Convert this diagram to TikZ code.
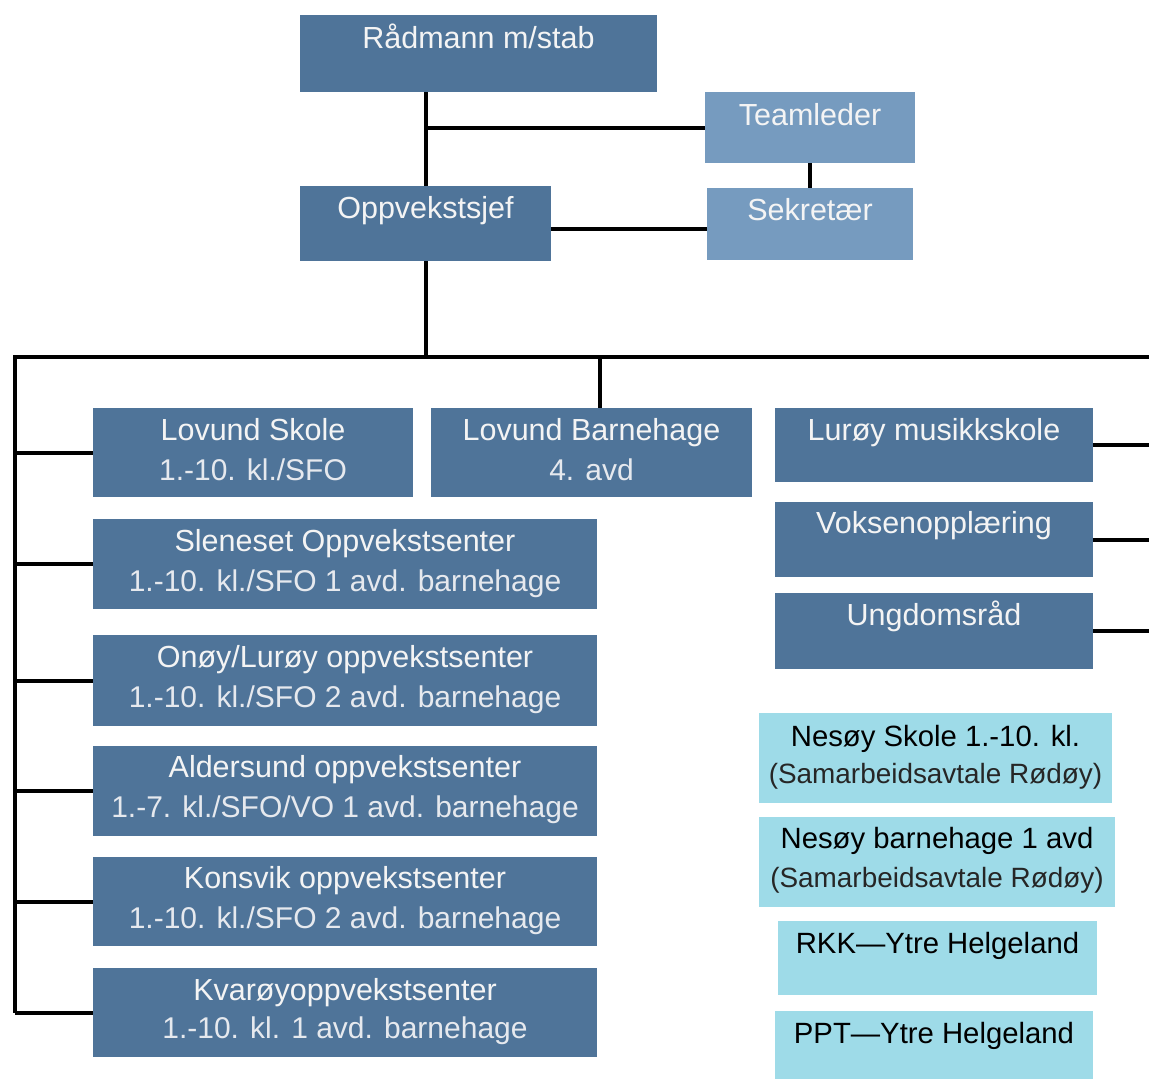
\documentclass[tikz,border=0pt]{standalone}
\usepackage{fontspec}
\setmainfont{Liberation Sans}
\newfontfamily\condfont{Liberation Sans}
\newfontfamily\regfont{Liberation Sans}
\definecolor{darkbox}{HTML}{4F7499}
\definecolor{lightbox}{HTML}{769BBF}
\definecolor{cyanbox}{HTML}{9EDBE8}
\definecolor{textwhite}{HTML}{F4F4F4}
\definecolor{textgrey}{HTML}{E6E9EE}
\tikzset{
  box/.style={rectangle, inner sep=0pt, outer sep=0pt},
  dbox/.style={box, fill=darkbox},
  lbox/.style={box, fill=lightbox},
  cbox/.style={box, fill=cyanbox},
  head/.style={anchor=base, inner sep=0pt, text=textwhite, font=\condfont\fontsize{30.5}{30.5}\selectfont},
  sub/.style={anchor=base, inner sep=0pt, text=textgrey, font=\regfont\fontsize{30}{30}\selectfont},
  chead/.style={anchor=base, inner sep=0pt, text=black, font=\regfont\fontsize{29.3}{29.3}\selectfont},
  csub/.style={anchor=base, inner sep=0pt, text=black!85, font=\regfont\fontsize{27.9}{27.9}\selectfont},
  conn/.style={draw=black, line width=4pt},
}
\newcommand{\boxat}[6]{% style, name, x1, y1, x2, y2
  \node[#1, minimum width={(#5-#3)*1pt}, minimum height={(#6-#4)*1pt}] (#2) at ({(#3+#5)/2},{(#4+#6)/2}) {};}
\begin{document}
\begin{tikzpicture}[x=1pt,y=-1pt]
\useasboundingbox (0,0) rectangle (1149,1079);

% top part
\boxat{dbox}{rad}{300}{15}{657}{92}
\boxat{lbox}{team}{705}{92}{915}{163}
\boxat{lbox}{sek}{707}{188}{913}{260}
\boxat{dbox}{opp}{300}{186}{551}{261}

% left column
\boxat{dbox}{lsk}{93}{408}{413}{497}
\boxat{dbox}{lbh}{431}{408}{752}{497}
\boxat{dbox}{sle}{93}{519}{597}{609}
\boxat{dbox}{ono}{93}{635}{597}{726}
\boxat{dbox}{ald}{93}{746}{597}{836}
\boxat{dbox}{kon}{93}{857}{597}{946}
\boxat{dbox}{kva}{93}{968}{597}{1057}

% right column
\boxat{dbox}{mus}{775}{408}{1093}{482}
\boxat{dbox}{vok}{775}{502}{1093}{577}
\boxat{dbox}{ung}{775}{593}{1093}{669}
\boxat{cbox}{nsk}{759}{713}{1112}{803}
\boxat{cbox}{nbh}{759}{817}{1115}{907}
\boxat{cbox}{rkk}{778}{921}{1097}{995}
\boxat{cbox}{ppt}{775}{1011}{1093}{1079}

% texts
\node[head] (radt) at ([yshift=-33pt]rad.north) {Rådmann m/stab};
\node[head] (teamt) at ([yshift=-33pt]team.north) {Teamleder};
\node[head] (sekt) at ([yshift=-32pt]sek.north) {Sekretær};
\node[head] (oppt) at ([yshift=-32pt]opp.north) {Oppvekstsjef};

\node[head] (lskt) at ([yshift=-32pt]lsk.north) {Lovund Skole};
\node[sub] (lsks) at ([yshift=-72pt]lsk.north) {1.-10. kl./SFO};
\node[head] (lbht) at ([yshift=-32pt]lbh.north) {Lovund Barnehage};
\node[sub] (lbhs) at ([yshift=-72pt]lbh.north) {4. avd};
\node[head] (slet) at ([yshift=-32pt]sle.north) {Sleneset Oppvekstsenter};
\node[sub] (sles) at ([yshift=-72pt]sle.north) {1.-10. kl./SFO 1 avd. barnehage};
\node[head] (onot) at ([yshift=-32pt]ono.north) {Onøy/Lurøy oppvekstsenter};
\node[sub] (onos) at ([yshift=-72pt]ono.north) {1.-10. kl./SFO 2 avd. barnehage};
\node[head] (aldt) at ([yshift=-31pt]ald.north) {Aldersund oppvekstsenter};
\node[sub] (alds) at ([yshift=-71pt]ald.north) {1.-7. kl./SFO/VO 1 avd. barnehage};
\node[head] (kont) at ([yshift=-31pt]kon.north) {Konsvik oppvekstsenter};
\node[sub] (kons) at ([yshift=-71pt]kon.north) {1.-10. kl./SFO 2 avd. barnehage};
\node[head] (kvat) at ([yshift=-32pt]kva.north) {Kvarøyoppvekstsenter};
\node[sub] (kvas) at ([yshift=-70pt]kva.north) {1.-10. kl. 1 avd. barnehage};

\node[head] (must) at ([yshift=-32pt]mus.north) {Lurøy musikkskole};
\node[head] (vokt) at ([yshift=-31pt]vok.north) {Voksenopplæring};
\node[head] (ungt) at ([yshift=-32pt]ung.north) {Ungdomsråd};

\node[chead] (nskt) at ([yshift=-33pt]nsk.north) {Nesøy Skole 1.-10. kl.};
\node[csub] (nsks) at ([yshift=-70pt]nsk.north) {(Samarbeidsavtale Rødøy)};
\node[chead] (nbht) at ([yshift=-31pt]nbh.north) {Nesøy barnehage 1 avd};
\node[csub] (nbhs) at ([yshift=-70pt]nbh.north) {(Samarbeidsavtale Rødøy)};
\node[chead] (rkkt) at ([yshift=-32pt]rkk.north) {RKK—Ytre Helgeland};
\node[chead] (pptt) at ([yshift=-32pt]ppt.north) {PPT—Ytre Helgeland};

% connectors
\coordinate (busL) at (15,357);
\coordinate (busR) at (1149,357);
\coordinate (leftEnd) at (15,1011);
\coordinate (lbhTop) at ([xshift=8pt]lbh.north);
\coordinate (oppR) at ([yshift=-5pt]opp.east);

\draw[conn] (opp.north |- rad.south) -- (opp.north);
\draw[conn] (opp.north |- team.west) -- (team.west);
\draw[conn] (team.south) -- (team.south |- sek.north);
\draw[conn] (oppR) -- (oppR -| sek.west);
\draw[conn] (opp.south) -- (opp.south |- busL);
\draw[conn, line cap=rect] (leftEnd) -- (busL) -- (busR);
\draw[conn] (lbhTop |- busL) -- (lbhTop);
\foreach \b in {lsk,sle,ono,ald,kon,kva}{
  \draw[conn] (\b.west -| busL) -- (\b.west);
}
\foreach \b in {mus,vok,ung}{
  \draw[conn] (\b.east) -- (\b.east -| busR);
}
\end{tikzpicture}
\end{document}
